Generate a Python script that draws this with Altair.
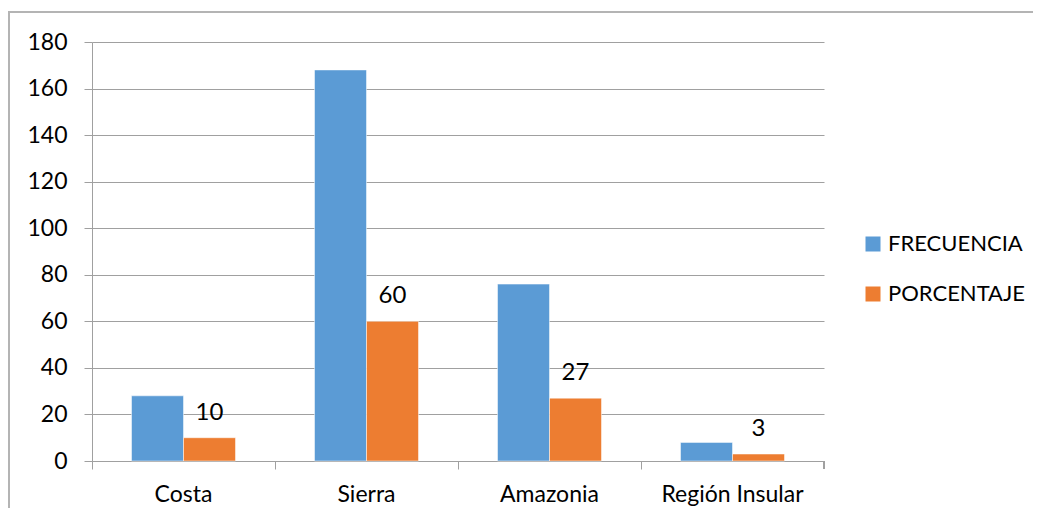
import altair as alt
import pandas as pd

categories = ["Costa", "Sierra", "Amazonia", "Región Insular"]
frecuencia = [28, 168, 76, 8]
porcentaje = [10, 60, 27, 3]
series = ["FRECUENCIA", "PORCENTAJE"]
colors = ["#5B9BD5", "#ED7D31"]
y_ticks = [0, 20, 40, 60, 80, 100, 120, 140, 160, 180]

rows = []
for c, f, p in zip(categories, frecuencia, porcentaje):
    rows.append({"cat": c, "serie": "FRECUENCIA", "valor": f})
    rows.append({"cat": c, "serie": "PORCENTAJE", "valor": p})
df = pd.DataFrame(rows)

FONT = "Lato"
W, H = 732, 419

x_enc = alt.X("cat:N", sort=categories, title=None,
              scale=alt.Scale(paddingInner=0, paddingOuter=0),
              axis=alt.Axis(labelAngle=0, labelFontSize=23, labelFont=FONT,
                            labelColor="#000000", labelPadding=14,
                            domainColor="#a0a0a0", tickColor="#a0a0a0",
                            tickSize=8, bandPosition=0, ticks=True,
                            grid=False))
xoff = alt.XOffset("serie:N", sort=series,
                   scale=alt.Scale(paddingInner=0, paddingOuter=0.76))
y_enc = alt.Y("valor:Q", title=None,
              scale=alt.Scale(domain=[0, 180], nice=False),
              axis=alt.Axis(values=y_ticks, labelFontSize=23, labelFont=FONT,
                            labelColor="#000000", labelPadding=17,
                            domainColor="#a0a0a0", tickColor="#a0a0a0",
                            tickSize=8, gridColor="#a0a0a0", gridWidth=1))

bars = alt.Chart(df).mark_bar(stroke="#ffffff", strokeWidth=0.5).encode(
    x=x_enc,
    xOffset=xoff,
    y=y_enc,
    color=alt.Color("serie:N", sort=series, title=None,
                    scale=alt.Scale(domain=series, range=colors),
                    legend=alt.Legend(orient="none", legendX=770, legendY=191,
                                      symbolType="square", symbolSize=225,
                                      symbolStrokeWidth=0, labelFontSize=22,
                                      labelFont=FONT, labelColor="#000000",
                                      labelOffset=4, rowPadding=28, padding=0)),
)

labels = alt.Chart(df).transform_filter(
    alt.datum.serie == "PORCENTAJE"
).mark_text(font=FONT, fontSize=24, color="#000000", baseline="alphabetic",
            dy=-18).encode(
    x=alt.X("cat:N", sort=categories),
    xOffset=alt.XOffset("serie:N", sort=series),
    y="valor:Q",
    text="valor:Q",
)

end_tick = alt.Chart(df).mark_rule(color="#a0a0a0").encode(
    x=alt.value(W), y=alt.value(H), y2=alt.value(H + 8)
)

border = alt.Chart(df).mark_rect(fill=None, stroke="#b4b4b4", strokeWidth=1.5).encode(
    x=alt.value(-83), x2=alt.value(1100), y=alt.value(-30), y2=alt.value(700)
)

chart = alt.layer(border, bars, labels, end_tick).properties(
    width=W, height=H,
    autosize=alt.AutoSizeParams(type="none"),
    padding={"left": 84, "top": 34, "right": 209, "bottom": 47},
    background="#ffffff",
).configure_view(stroke=None)

chart.save("out.html", embed_options={"renderer": "svg", "actions": False})
